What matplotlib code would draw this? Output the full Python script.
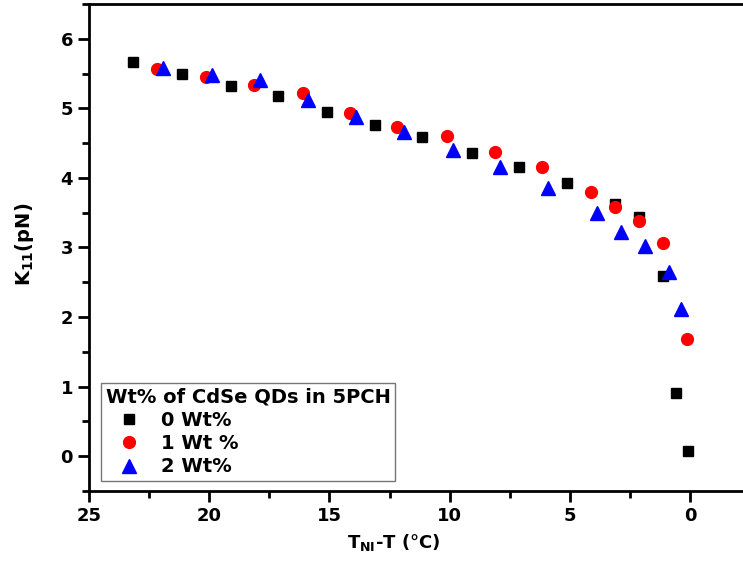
import matplotlib
matplotlib.use("Agg")
import matplotlib.pyplot as plt
from matplotlib.ticker import MultipleLocator

plt.rcParams['font.family'] = ['DejaVu Sans']
plt.rcParams['font.weight'] = 'bold'
plt.rcParams['mathtext.fontset'] = 'custom'
plt.rcParams['mathtext.rm'] = 'DejaVu Sans:bold'
plt.rcParams['mathtext.it'] = 'DejaVu Sans:bold'
plt.rcParams['mathtext.bf'] = 'DejaVu Sans:bold'

# K11 splay elastic constant vs reduced temperature
dT_0 = [23.17, 21.14, 19.10, 17.15, 15.12, 13.12, 11.13, 9.09, 7.10, 5.11,
        3.11, 2.12, 1.12, 0.58, 0.08]
k11_0 = [5.67, 5.50, 5.32, 5.18, 4.95, 4.76, 4.59, 4.36, 4.16, 3.93,
         3.63, 3.44, 2.59, 0.91, 0.07]

dT_1 = [22.18, 20.14, 18.15, 16.11, 14.16, 12.17, 10.13, 8.10, 6.15, 4.11,
        3.11, 2.12, 1.12, 0.12]
k11_1 = [5.57, 5.45, 5.34, 5.22, 4.94, 4.73, 4.60, 4.37, 4.16, 3.80,
         3.58, 3.38, 3.06, 1.68]

dT_2 = [21.93, 19.89, 17.90, 15.91, 13.91, 11.88, 9.88, 7.89, 5.90, 3.86,
        2.86, 1.87, 0.87, 0.37]
k11_2 = [5.58, 5.48, 5.41, 5.12, 4.88, 4.66, 4.40, 4.16, 3.86, 3.50,
         3.22, 3.02, 2.65, 2.12]

labels = ['0 Wt%', '1 Wt %', '2 Wt%']
legend_title = 'Wt% of CdSe QDs in 5PCH'

fig = plt.figure(figsize=(7.43, 5.63), dpi=100)
ax = fig.add_axes([0.1198, 0.1279, 0.8802, 0.865])

ax.plot(dT_0, k11_0, linestyle='none', marker='s', ms=7.5, color='black',
        label=labels[0])
ax.plot(dT_1, k11_1, linestyle='none', marker='o', ms=8.5, color='#ff0000',
        label=labels[1])
ax.plot(dT_2, k11_2, linestyle='none', marker='^', ms=9.5, color='#0000ff',
        label=labels[2])

ax.set_xlim(25, -2.2)
ax.set_ylim(-0.5, 6.5)

ax.xaxis.set_major_locator(MultipleLocator(5))
ax.xaxis.set_minor_locator(MultipleLocator(2.5))
ax.yaxis.set_major_locator(MultipleLocator(1))
ax.yaxis.set_minor_locator(MultipleLocator(0.5))

for side in ['left', 'bottom', 'top']:
    ax.spines[side].set_linewidth(2)
ax.spines['right'].set_visible(False)

ax.tick_params(which='major', direction='out', length=8, width=2,
               labelsize=13, top=False, right=False)
ax.tick_params(which='minor', direction='out', length=5, width=2,
               top=False, right=False)
for lbl in ax.get_xticklabels() + ax.get_yticklabels():
    lbl.set_fontweight('bold')

ax.set_xlabel(r'T$_{\mathrm{NI}}$-T ($\degree$C)', fontsize=13,
              fontweight='bold')
ax.xaxis.set_label_coords(0.466, -0.084)
ax.set_ylabel(r'K$_{\mathrm{11}}$(pN)', fontsize=14, fontweight='bold')
ax.yaxis.set_label_coords(-0.081, 0.507)

leg = ax.legend(title=legend_title, loc='lower left',
                bbox_to_anchor=(0.018, 0.02),
                title_fontproperties={'weight': 'bold', 'size': 14},
                prop={'weight': 'bold', 'size': 14},
                frameon=True, fancybox=False, edgecolor='#777777',
                framealpha=1, borderpad=0.25, labelspacing=0.22,
                handletextpad=0.45, handlelength=2.4, borderaxespad=0,
                alignment='left')
leg.get_frame().set_linewidth(1)

fig.savefig('out.png', dpi=100)
